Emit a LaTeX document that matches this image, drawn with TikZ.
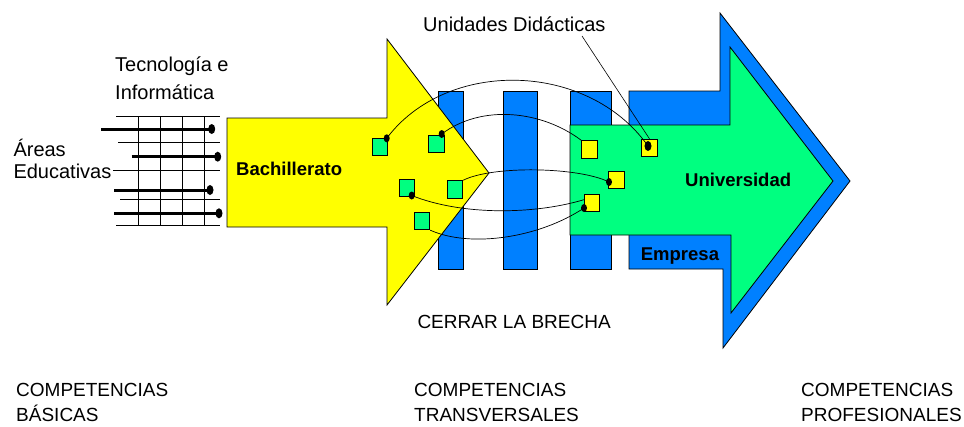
\documentclass[tikz,border=0pt]{standalone}
\usepackage{fontspec}
\setmainfont{Liberation Sans}
\usetikzlibrary{shapes.geometric}
\definecolor{ayel}{RGB}{255,255,0}
\definecolor{agrn}{RGB}{0,255,128}
\definecolor{ablu}{RGB}{0,128,255}
\begin{document}
\begin{tikzpicture}[x=1pt,y=-1pt,
  outl/.style={draw=black,line width=0.8pt,line join=miter},
  bar/.style={outl,fill=ablu},
  gsq/.style={draw=black,line width=0.8pt,fill=agrn,minimum width=15.5pt,minimum height=17.5pt,inner sep=0pt},
  ysq/.style={gsq,fill=ayel},
  dot/.style={ellipse,fill=black,minimum width=6pt,minimum height=8pt,inner sep=0pt},
  bigdot/.style={dot,minimum width=7pt,minimum height=10pt},
  wire/.style={draw=black,line width=0.7pt},
  gridline/.style={draw=black,line width=0.8pt},
  heavyline/.style={draw=black,line width=3pt},
  lbl/.style={font=\fontsize{20}{24}\selectfont,inner sep=0pt,anchor=base west},
  blbl/.style={lbl,font=\fontsize{18.5}{22}\selectfont\bfseries},
  clbl/.style={lbl,font=\fontsize{19}{22}\selectfont},
]
\useasboundingbox (0,0) rectangle (964,426);

% blue bars
\path[bar] (438,91) rectangle (463,269);
\path[bar] (503,91) rectangle (537,269);
\path[bar] (570,91) rectangle (611,269);
% blue arrow
\path[outl,fill=ablu] (629,91) -- (720,91) -- (720,13) -- (850,181) -- (723,348) -- (723,269) -- (629,269) -- cycle;
% green arrow
\path[outl,fill=agrn] (570,125) -- (730,125) -- (730,47) -- (833,181) -- (731,313) -- (731,235) -- (570,235) -- cycle;
% yellow arrow
\path[outl,fill=ayel] (227,118) -- (387,118) -- (387,39) -- (489,173) -- (387,305) -- (387,227) -- (227,227) -- cycle;

% grid
\foreach \y/\xs in {116.7/116,142.3/118,170/113,199.3/120,225.7/116}
  \draw[gridline] (\xs,\y) -- (220,\y);
\foreach \x in {138.3,160.7,182.3,204.3}
  \draw[gridline] (\x,116.7) -- (\x,225.7);

% heavy lines with dots
\node[bigdot] (t1) at (211.7,129) {};
\node[bigdot] (t2) at (217.7,156.7) {};
\node[bigdot] (t3) at (210,190) {};
\node[bigdot] (t4) at (219,213.3) {};
\coordinate (s1) at (101,129);
\coordinate (s2) at (131.7,156.7);
\coordinate (s3) at (114.3,190);
\coordinate (s4) at (114.3,213.3);
\draw[heavyline] (s1) -- (t1.center);
\draw[heavyline] (s2) -- (t2.center);
\draw[heavyline] (s3) -- (t3.center);
\draw[heavyline] (s4) -- (t4.center);

% squares
\node[gsq] (g1) at (380,146.7) {};
\node[gsq] (g2) at (436.5,144) {};
\node[gsq] (g3) at (407,188) {};
\node[gsq] (g4) at (455,189.4) {};
\node[gsq] (g5) at (422,221) {};
\node[ysq] (y1) at (589.5,149.5) {};
\node[ysq] (y2) at (649.5,148) {};
\node[ysq] (y3) at (616.5,180) {};
\node[ysq] (y4) at (592,203) {};

% dot positions
\coordinate (dg1) at (386.7,138.3);
\coordinate (dg2) at (441.7,134);
\coordinate (dg3) at (411.7,195.5);
\coordinate (dy2) at (648,146);
\coordinate (dy3) at (609,182);
\coordinate (dy4) at (584,208);

% wires
\draw[wire] (dg1) .. controls +(60,-80) and +(-60,-85) .. (dy2);
\draw[wire] (dg2) .. controls +(40,-30) and +(-40,-30) .. (y1.north west);
\draw[wire] (g4.north east) .. controls +(30,-15) and +(-30,-15) .. (dy3);
\draw[wire] (dg3) .. controls +(50,20) and +(-50,15) .. (y4.158);
\draw[wire] (g5.south east) .. controls +(40,18) and +(-45,30) .. (dy4);

% dots
\node[dot] (ddg1) at (dg1) {};
\node[dot] (ddg2) at (dg2) {};
\node[dot] (ddg3) at (dg3) {};
\node[bigdot] (ddy2) at (dy2) {};
\node[dot] (ddy3) at (dy3) {};
\node[dot] (ddy4) at (dy4) {};

% labels
\node[lbl] (ud) at (423,31.7) {Unidades Didácticas};
\coordinate (ldr) at (582,36);
\draw[line width=0.6pt] (ldr) -- (y2.north);
\node[lbl] (tec1) at (115,71.7) {Tecnología e};
\node[lbl] (tec2) at (115,99.3) {Informática};
\node[lbl] (are1) at (13.3,156) {Áreas};
\node[lbl] (are2) at (13.3,178.3) {Educativas};
\node[blbl] (bach) at (236,175) {Bachillerato};
\node[blbl] (univ) at (685,186) {Universidad};
\node[blbl] (emp) at (640.7,260.5) {Empresa};
\node[clbl] (cerr) at (417.3,328.3) {CERRAR LA BRECHA};
\node[clbl] (cb1) at (16,396.7) {COMPETENCIAS};
\node[clbl] (cb2) at (16,421.7) {BÁSICAS};
\node[clbl] (ct1) at (414,396.7) {COMPETENCIAS};
\node[clbl] (ct2) at (414,421.7) {TRANSVERSALES};
\node[clbl] (cp1) at (801,396.7) {COMPETENCIAS};
\node[clbl] (cp2) at (801,421.7) {PROFESIONALES};
\end{tikzpicture}
\end{document}
